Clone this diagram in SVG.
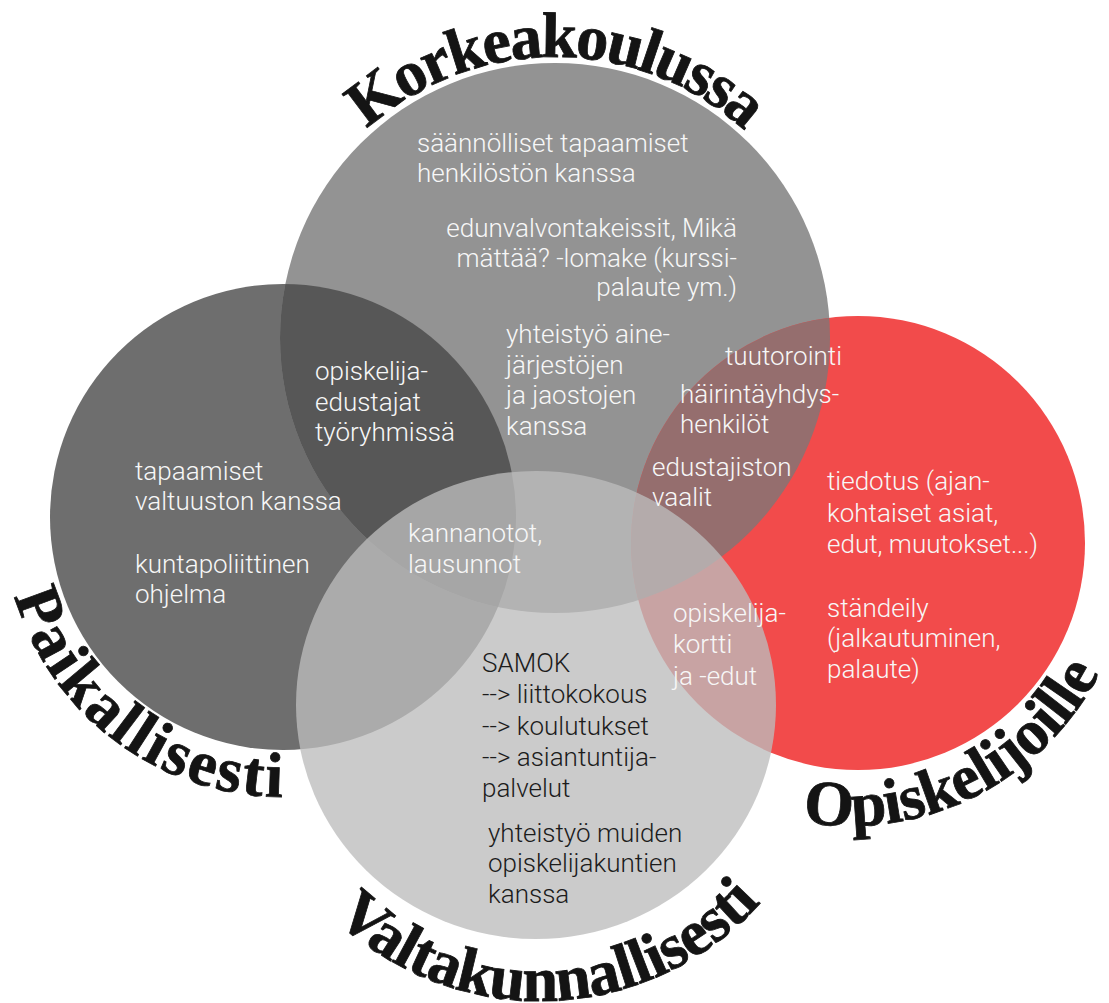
<svg xmlns="http://www.w3.org/2000/svg" width="1109" height="1003" viewBox="0 0 1109 1003">
<defs>
<style>
.t{font-family:"Roboto Light",Roboto,"Open Sans","Liberation Sans",sans-serif;font-weight:300;font-size:26px;fill:#f7f7f7}
.d{fill:#1c1c1c}
.h{font-family:"Liberation Serif","DejaVu Serif",serif;font-weight:bold;font-size:64px;fill:#141414;stroke:#141414;stroke-width:0.8px}
</style>
<clipPath id="cTop"><circle cx="555" cy="338" r="275"/></clipPath>
<path id="arcTop" d="M 367 129.2 A 281 281 0 0 1 744.8 130.8"/>
<path id="arcLeft" d="M 14.4 596 A 280 280 0 0 0 283 797"/>
<path id="arcRight" d="M 803 822 A 280 280 0 0 0 1100 672"/>
<path id="arcBottom" d="M 334.4 918.4 A 297 297 0 0 0 761.4 902"/>
</defs>
<rect width="1109" height="1003" fill="#fff"/>
<g id="circles">
<g id="circle-paikallisesti"><circle cx="283" cy="517" r="233" fill="#6e6e6e"/></g>
<g id="circle-korkeakoulussa"><circle cx="555" cy="338" r="275" fill="#939393"/></g>
<g id="circle-opiskelijoille"><circle cx="858" cy="543" r="227" fill="#f24b4b"/></g>
<g id="overlaps" clip-path="url(#cTop)">
<circle cx="283" cy="517" r="233" fill="#575757"/>
<circle cx="858" cy="543" r="227" fill="#956e6e"/>
</g>
<g id="circle-valtakunnallisesti"><ellipse cx="536" cy="705" rx="240" ry="234" fill="#bcbcbc" fill-opacity="0.78"/></g>
</g>
<g id="node-korkeakoulussa">
<text class="h"><textPath href="#arcTop" textLength="414" lengthAdjust="spacing">Korkeakoulussa</textPath></text>
<text class="t" x="417" y="152">säännölliset tapaamiset</text>
<text class="t" x="417" y="182">henkilöstön kanssa</text>
<text class="t" text-anchor="end"><tspan x="737" y="237">edunvalvontakeissit, Mikä</tspan><tspan x="737" y="267">mättää? -lomake (kurssi-</tspan><tspan x="737" y="296">palaute ym.)</tspan></text>
<text class="t"><tspan x="506" y="343">yhteistyö aine-</tspan><tspan x="506" y="374">järjestöjen</tspan><tspan x="506" y="404">ja jaostojen</tspan><tspan x="506" y="435">kanssa</tspan></text>
<text class="t"><tspan x="315" y="380">opiskelija-</tspan><tspan x="315" y="411">edustajat</tspan><tspan x="315" y="441">työryhmissä</tspan></text>
<text class="t" x="725" y="365">tuutorointi</text>
<text class="t"><tspan x="680" y="403">häirintäyhdys-</tspan><tspan x="680" y="433">henkilöt</tspan></text>
<text class="t"><tspan x="652" y="476">edustajiston</tspan><tspan x="652" y="506">vaalit</tspan></text>
<text class="t"><tspan x="408" y="542">kannanotot,</tspan><tspan x="408" y="573">lausunnot</tspan></text>
</g>
<g id="node-paikallisesti">
<text class="h"><textPath href="#arcLeft" textLength="359" lengthAdjust="spacing">Paikallisesti</textPath></text>
<text class="t"><tspan x="135" y="480">tapaamiset</tspan><tspan x="135" y="510">valtuuston kanssa</tspan><tspan x="135" y="573">kuntapoliittinen</tspan><tspan x="135" y="603">ohjelma</tspan></text>
</g>
<g id="node-opiskelijoille">
<text class="h"><textPath href="#arcRight" textLength="355" lengthAdjust="spacing">Opiskelijoille</textPath></text>
<text class="t"><tspan x="827" y="490">tiedotus (ajan-</tspan><tspan x="827" y="522">kohtaiset asiat,</tspan><tspan x="827" y="553">edut, muutokset...)</tspan><tspan x="827" y="617">ständeily</tspan><tspan x="827" y="647">(jalkautuminen,</tspan><tspan x="827" y="678">palaute)</tspan></text>
<text class="t"><tspan x="673" y="622">opiskelija-</tspan><tspan x="673" y="653">kortti</tspan><tspan x="673" y="685">ja -edut</tspan></text>
</g>
<g id="node-valtakunnallisesti">
<text class="h"><textPath href="#arcBottom" textLength="476" lengthAdjust="spacing">Valtakunnallisesti</textPath></text>
<text class="t d"><tspan x="482" y="672">SAMOK</tspan><tspan x="482" y="703">--&gt; liittokokous</tspan><tspan x="482" y="735">--&gt; koulutukset</tspan><tspan x="482" y="766">--&gt; asiantuntija-</tspan><tspan x="482" y="797">palvelut</tspan></text>
<text class="t d"><tspan x="488" y="842">yhteistyö muiden</tspan><tspan x="488" y="872">opiskelijakuntien</tspan><tspan x="488" y="903">kanssa</tspan></text>
</g>
<g id="connectors"/>
</svg>
